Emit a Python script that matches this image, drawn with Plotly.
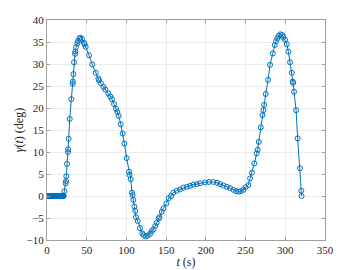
import plotly.graph_objects as go

t_flat = [i * 0.5 for i in range(43)]
t_s = t_flat + [
       21.8, 23.5, 24.0, 24.3, 25.2, 26.4, 26.6, 27.3, 28.6, 30.6, 32.3, 32.5, 33.2, 34.0,
       35.3, 35.6, 36.5, 38.2, 39.0, 40.7, 42.0, 44.0, 46.6, 47.3, 48.7, 52.9, 57.0, 61.3,
       64.7, 65.5, 68.0, 71.0, 73.5, 77.2, 79.8, 81.8, 84.4, 86.9, 88.6, 90.3, 92.8, 95.3,
       97.4, 100.3, 103.3, 103.9, 105.4, 107.0, 107.8, 108.7, 110.0, 111.2, 112.0, 114.2,
       117.1, 120.0, 121.7, 124.3, 126.8, 129.7, 131.8, 133.9, 136.4, 138.1, 140.7, 141.5,
       144.4, 146.5, 150.3, 153.2, 156.2, 159.0, 163.3, 167.5, 171.7, 175.9, 180.1, 184.3,
       188.5, 192.7, 199.0, 204.0, 209.5, 214.0, 218.0, 222.0, 226.3, 230.5, 234.7, 238.0,
       241.0, 244.0, 247.3, 250.0, 253.5, 255.7, 258.0, 261.0, 264.0, 265.3, 266.6, 269.1,
       271.2, 272.4, 273.3, 275.4, 278.3, 280.8, 284.2, 286.7, 288.4, 290.0, 291.8, 293.8,
       296.0, 297.6, 299.7, 301.9, 303.9, 306.0, 308.2, 309.4, 309.8, 311.0, 313.6, 315.6,
       318.4, 320.2, 320.5]

gamma_deg = [0] * len(t_flat) + [
    1.1, 2.9, 3.4, 4.5, 7.3, 10.0, 10.6, 13.0, 17.5, 22.0, 25.5, 26.0, 27.7, 30.4,
    32.3, 32.8, 33.8, 34.7, 35.2, 35.8, 36.0, 35.7, 34.8, 34.5, 33.9, 32.0, 29.9, 28.0,
    26.7, 26.3, 25.6, 24.8, 24.2, 23.3, 22.6, 22.0, 20.9, 19.8, 19.1, 18.2, 16.3, 14.2,
    11.9, 8.6, 5.5, 4.8, 3.8, 0.75, 0.2, -0.9, -2.4, -3.4, -4.8, -5.7,
    -7.3, -8.5, -8.9, -9.2, -9.0, -8.6, -8.0, -7.6, -6.8, -6.1, -5.1, -4.8,
    -3.6, -2.8, -1.7, -0.5, 0.0, 0.75, 1.2, 1.5, 1.9, 2.1, 2.3, 2.6,
    2.7, 2.9, 3.1, 3.2, 3.2, 3.0, 2.7, 2.4, 2.1, 1.8, 1.4, 1.1,
    1.0, 1.1, 1.4, 2.0, 2.5, 4.0, 5.3, 7.4, 9.7, 10.5, 12.3, 15.6,
    18.4, 19.5, 20.7, 23.2, 26.4, 29.8, 32.4, 34.3, 35.2, 35.8, 36.4, 36.75,
    36.6, 36.1, 35.5, 34.5, 32.8, 30.4, 28.0, 26.0, 25.7, 23.7, 19.5, 13.1,
    6.3, 1.2, 0.0]

x_ticks = [0, 50, 100, 150, 200, 250, 300, 350]
y_ticks = [-10, -5, 0, 5, 10, 15, 20, 25, 30, 35, 40]

blue = "#0072BD"
font = "Liberation Serif"

fig = go.Figure(go.Scatter(
    x=t_s, y=gamma_deg, mode="lines+markers",
    line=dict(color=blue, width=1),
    marker=dict(symbol="circle-open", size=5, color=blue, line=dict(width=1, color=blue)),
))

axis_common = dict(
    showgrid=True, gridcolor="#ebebeb", gridwidth=1,
    showline=True, linecolor="#a0a0a0", linewidth=1, mirror="ticks",
    ticks="inside", ticklen=3, tickcolor="#a0a0a0",
    zeroline=False, automargin=False,
    tickfont=dict(family=font, size=11, color="#262626"),
)

fig.update_xaxes(range=[0, 350], tickvals=x_ticks, **axis_common,
                 title=dict(text="<i>t</i> (s)", font=dict(family=font, size=12, color="#262626"), standoff=2))
fig.update_yaxes(range=[-10, 40], tickvals=y_ticks, **axis_common,
                 title=dict(text="<i>γ</i>(<i>t</i>) (deg)", font=dict(family=font, size=12, color="#262626"), standoff=0))

fig.update_layout(
    width=360, height=270,
    margin=dict(l=47, r=35, t=20, b=30, autoexpand=False),
    paper_bgcolor="white", plot_bgcolor="white",
    font=dict(family=font),
    showlegend=False,
)

fig.write_html("out.html")
